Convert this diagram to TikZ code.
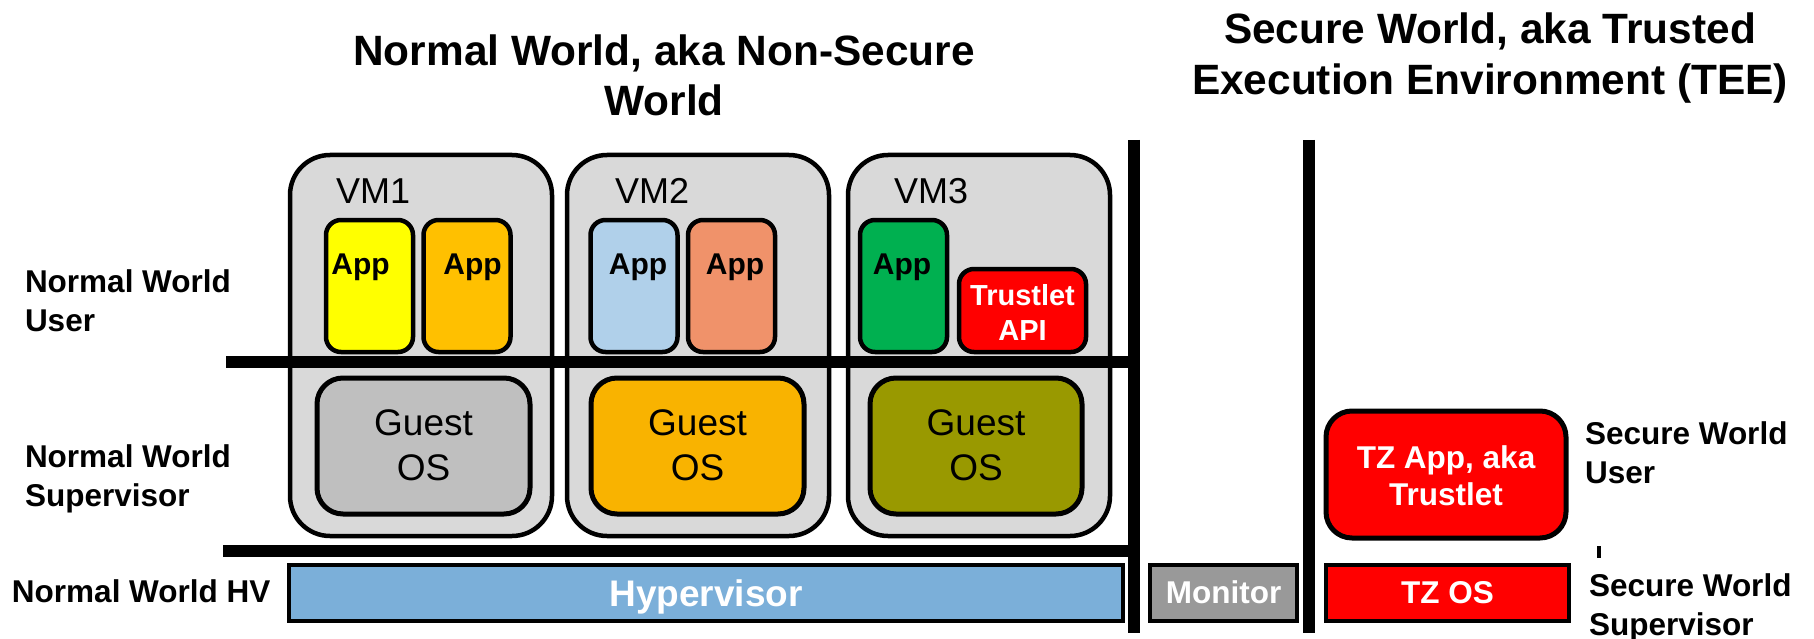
\documentclass[tikz,border=0pt]{standalone}
\usepackage{fontspec}
\setmainfont{Liberation Sans}
\definecolor{vmfill}{HTML}{D9D9D9}
\definecolor{appyellow}{HTML}{FFFF00}
\definecolor{appamber}{HTML}{FFC000}
\definecolor{appblue}{HTML}{B0D0EA}
\definecolor{appsalmon}{HTML}{F0926A}
\definecolor{appgreen}{HTML}{00B050}
\definecolor{tzred}{HTML}{FF0000}
\definecolor{osgray}{HTML}{BFBFBF}
\definecolor{osamber}{HTML}{F9B300}
\definecolor{osolive}{HTML}{999900}
\definecolor{hvblue}{HTML}{7BAFD9}
\definecolor{mongray}{HTML}{999999}
\begin{document}
\begin{tikzpicture}[x=1pt,y=-1pt,
  every node/.style={inner sep=0pt, outer sep=0pt},
  vmbox/.style={draw=black, line width=4.5pt, fill=vmfill, rounded corners=40pt},
  appbox/.style={draw=black, line width=4.5pt, rounded corners=15pt},
  osbox/.style={draw=black, line width=5pt, rounded corners=26pt},
  tzbox/.style={draw=black, line width=5pt, rounded corners=26pt, fill=tzred},
  flatbox/.style={draw=black, line width=4pt},
  divider/.style={draw=black, line width=12pt},
  heading/.style={font=\fontsize{42.4}{50}\selectfont\bfseries, align=center, anchor=north},
  layerlbl/.style={font=\fontsize{31.5}{39}\selectfont\bfseries, align=left, anchor=north west},
  vmlbl/.style={font=\fontsize{36}{40}\selectfont, anchor=base west},
  applbl/.style={font=\fontsize{30}{35}\selectfont\bfseries, anchor=base},
  apilbl/.style={font=\fontsize{29}{35}\selectfont\bfseries, text=white, align=center, anchor=north},
  oslbl/.style={font=\fontsize{37}{45}\selectfont, align=center, anchor=north},
  barlbl/.style={font=\fontsize{37}{40}\selectfont\bfseries, text=white, anchor=base},
  smalllbl/.style={font=\fontsize{31.5}{37}\selectfont\bfseries, text=white, align=center},
]
\useasboundingbox (0,0) rectangle (1814,639);

% headings
\node[heading] (nwtitle) at (664,35.1) {Normal World, aka Non-Secure\\World};
\node[heading, font=\fontsize{42.4}{51}\selectfont\bfseries] (swtitle) at (1490,13.1) {Secure World, aka Trusted\\Execution Environment (TEE)};

% privilege level labels
\node[layerlbl] (nwuser) at (25,269.4) {Normal World\\User};
\node[layerlbl] (nwsup) at (25,444.4) {Normal World\\Supervisor};
\node[layerlbl, anchor=base west] (nwhv) at (12,602) {Normal World HV};
\node[layerlbl] (swuser) at (1585,422) {Secure World\\User};
\node[layerlbl] (swsup) at (1589,574) {Secure World\\Supervisor};

% virtual machines
\node[vmbox, minimum width=262pt, minimum height=381pt] (vm1) at (421,345.5) {};
\node[vmbox, minimum width=262pt, minimum height=381pt] (vm2) at (698,345.5) {};
\node[vmbox, minimum width=262pt, minimum height=381pt] (vm3) at (979,345.5) {};
\node[vmlbl] (vm1t) at (336,204) {VM1};
\node[vmlbl] (vm2t) at (615,204) {VM2};
\node[vmlbl] (vm3t) at (894,204) {VM3};

% user-space applications
\node[appbox, fill=appyellow, minimum width=87pt, minimum height=132pt] (app11) at (369.5,286) {};
\node[appbox, fill=appamber,  minimum width=87pt, minimum height=132pt] (app12) at (467,286) {};
\node[appbox, fill=appblue,   minimum width=87pt, minimum height=132pt] (app21) at (634,286) {};
\node[appbox, fill=appsalmon, minimum width=87pt, minimum height=132pt] (app22) at (731.5,286) {};
\node[appbox, fill=appgreen,  minimum width=87pt, minimum height=132pt] (app31) at (903.5,286) {};
\node[appbox, fill=tzred, minimum width=127pt, minimum height=83pt] (tapi) at (1022.5,310.5) {};
\node[applbl] (app11t) at (360.5,274) {App};
\node[applbl] (app12t) at (472.5,274) {App};
\node[applbl] (app21t) at (638,274) {App};
\node[applbl] (app22t) at (735,274) {App};
\node[applbl] (app31t) at (902,274) {App};
\node[apilbl] (tapit) at (1022.5,284.2) {Trustlet\\API};

% guest kernels
\node[osbox, fill=osgray,  minimum width=213pt, minimum height=136pt] (os1) at (423.5,446) {};
\node[osbox, fill=osamber, minimum width=213pt, minimum height=136pt] (os2) at (697.5,446) {};
\node[osbox, fill=osolive, minimum width=212pt, minimum height=136pt] (os3) at (976,446) {};
\node[oslbl] (os1t) at (423.5,410) {Guest\\OS};
\node[oslbl] (os2t) at (697.5,410) {Guest\\OS};
\node[oslbl] (os3t) at (976,410) {Guest\\OS};

% privilege boundaries
\draw[divider] (226,362) -- (1140,362);
\draw[divider] (223,551) -- (1134,551);
\draw[divider] (1134,140) -- (1134,633);
\draw[divider] (1309,140) -- (1309,633);
\draw[line width=4pt] (1599,546) -- (1599,558);

% hypervisor, monitor and TrustZone
\node[flatbox, fill=hvblue, minimum width=834pt, minimum height=56pt] (hv) at (706,593) {};
\node[barlbl] (hvt) at (706,606) {Hypervisor};
\node[flatbox, fill=mongray, minimum width=147pt, minimum height=56pt] (mon) at (1223.5,593) {};
\node[barlbl, font=\fontsize{31.5}{37}\selectfont\bfseries] (mont) at (1223.5,603) {Monitor};
\node[flatbox, fill=tzred, minimum width=243pt, minimum height=56pt] (tzos) at (1447.5,593) {};
\node[barlbl, font=\fontsize{31.5}{37}\selectfont\bfseries] (tzost) at (1447.5,603) {TZ OS};
\node[tzbox, minimum width=240pt, minimum height=127pt] (tzapp) at (1446,474.5) {};
\node[smalllbl, anchor=north] (tzappt) at (1446,445.4) {TZ App, aka\\Trustlet};
\end{tikzpicture}
\end{document}
